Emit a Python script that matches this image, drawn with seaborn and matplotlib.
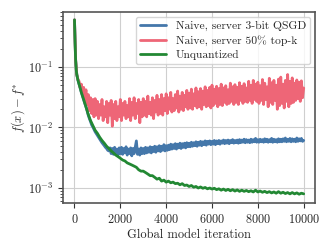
import matplotlib
matplotlib.use("Agg")
import matplotlib.pyplot as plt
import pandas as pd
import seaborn as sns


# smooth curve read on a coarse grid, noisy curves on a 50-iteration grid
iters_coarse = [0, 25, 50, 75, 100, 150, 200, 250, 300] + list(range(400, 10001, 100))
iters_fine = list(range(0, 10001, 50))

qsgd = [
    0.60, 0.13, 0.075, 0.061, 0.052, 0.045, 0.038, 0.033, 0.029, 0.025, 0.022, 0.019, 0.016, 0.014, 0.0125, 0.011, 0.0102, 0.0093, 0.0085, 0.0079,
    0.0074, 0.0069, 0.0064, 0.0060, 0.0056, 0.0053, 0.0050, 0.0047, 0.0045, 0.0042, 0.0041, 0.0046, 0.0037, 0.0045, 0.0036, 0.0047, 0.0038, 0.0044, 0.0035, 0.0046,
    0.0037, 0.0047, 0.0036, 0.0045, 0.0038, 0.0048, 0.0035, 0.0044, 0.0037, 0.0046, 0.0034, 0.0045, 0.0037, 0.0047, 0.0060, 0.0036, 0.0044, 0.0035, 0.0046, 0.0037,
    0.0045, 0.0037, 0.0047, 0.0038, 0.0046, 0.0039, 0.0048, 0.0038, 0.0047, 0.0040, 0.0049, 0.0039, 0.0048, 0.0041, 0.0050, 0.0040, 0.0049, 0.0042, 0.0052, 0.0041,
    0.0050, 0.0042, 0.0051, 0.0043, 0.0053, 0.0044, 0.0052, 0.0045, 0.0054, 0.0044, 0.0053, 0.0046, 0.0055, 0.0045, 0.0054, 0.0047, 0.0055, 0.0046, 0.0056, 0.0048,
    0.0055, 0.0048, 0.0057, 0.0049, 0.0056, 0.0050, 0.0058, 0.0049, 0.0057, 0.0051, 0.0059, 0.0050, 0.0058, 0.0052, 0.0060, 0.0051, 0.0059, 0.0053, 0.0060, 0.0052,
    0.0059, 0.0053, 0.0061, 0.0052, 0.0060, 0.0054, 0.0061, 0.0053, 0.0060, 0.0055, 0.0062, 0.0054, 0.0061, 0.0055, 0.0062, 0.0054, 0.0061, 0.0056, 0.0063, 0.0055,
    0.0061, 0.0056, 0.0062, 0.0055, 0.0063, 0.0056, 0.0062, 0.0057, 0.0064, 0.0056, 0.0063, 0.0057, 0.0062, 0.0056, 0.0064, 0.0057, 0.0063, 0.0058, 0.0066, 0.0057,
    0.0063, 0.0057, 0.0064, 0.0058, 0.0063, 0.0057, 0.0065, 0.0058, 0.0064, 0.0057, 0.0063, 0.0058, 0.0066, 0.0057, 0.0064, 0.0058, 0.0063, 0.0057, 0.0065, 0.0058,
    0.0064, 0.0058, 0.0065, 0.0059, 0.0067, 0.0058, 0.0064, 0.0059, 0.0066, 0.0058, 0.0065, 0.0059, 0.0064, 0.0058, 0.0067, 0.0059, 0.0065, 0.0060, 0.0066, 0.0059,
    0.0061,
]

topk = [
    0.60, 0.13, 0.075, 0.062, 0.058, 0.045, 0.052, 0.034, 0.046, 0.027, 0.042, 0.024, 0.035, 0.019, 0.031, 0.017, 0.029, 0.015, 0.030, 0.016,
    0.027, 0.014, 0.024, 0.016, 0.029, 0.013, 0.022, 0.015, 0.027, 0.012, 0.025, 0.016, 0.028, 0.0105, 0.024, 0.014, 0.027, 0.013, 0.022, 0.015,
    0.029, 0.013, 0.025, 0.016, 0.027, 0.014, 0.023, 0.015, 0.030, 0.013, 0.026, 0.016, 0.031, 0.014, 0.025, 0.017, 0.029, 0.012, 0.026, 0.015,
    0.030, 0.016, 0.027, 0.015, 0.033, 0.017, 0.026, 0.016, 0.031, 0.014, 0.028, 0.018, 0.034, 0.016, 0.029, 0.017, 0.035, 0.016, 0.030, 0.019,
    0.036, 0.017, 0.031, 0.020, 0.038, 0.018, 0.030, 0.019, 0.035, 0.021, 0.040, 0.018, 0.033, 0.020, 0.038, 0.019, 0.034, 0.022, 0.041, 0.020,
    0.037, 0.021, 0.043, 0.020, 0.036, 0.023, 0.045, 0.021, 0.039, 0.022, 0.044, 0.020, 0.040, 0.024, 0.047, 0.022, 0.041, 0.023, 0.046, 0.021,
    0.050, 0.023, 0.043, 0.025, 0.048, 0.022, 0.044, 0.024, 0.052, 0.023, 0.045, 0.026, 0.049, 0.024, 0.042, 0.025, 0.054, 0.027, 0.047, 0.024,
    0.051, 0.026, 0.046, 0.024, 0.055, 0.028, 0.048, 0.025, 0.053, 0.027, 0.045, 0.026, 0.058, 0.028, 0.050, 0.025, 0.060, 0.029, 0.052, 0.027,
    0.056, 0.025, 0.049, 0.028, 0.062, 0.024, 0.054, 0.029, 0.047, 0.022, 0.065, 0.026, 0.055, 0.024, 0.060, 0.028, 0.050, 0.020, 0.063, 0.023,
    0.068, 0.025, 0.052, 0.021, 0.060, 0.027, 0.075, 0.022, 0.058, 0.025, 0.066, 0.026, 0.054, 0.028, 0.061, 0.030, 0.056, 0.027, 0.059, 0.031,
    0.045,
]

unquant = [0.60, 0.25, 0.13, 0.09, 0.075, 0.061, 0.052, 0.045, 0.038,
           0.029, 0.022, 0.0165, 0.013, 0.0108, 0.0090, 0.0080, 0.0069, 0.0061, 0.0055,
           0.0049, 0.0045, 0.0041, 0.0038, 0.0035, 0.0033, 0.0031, 0.0029, 0.0028, 0.0026,
           0.0025, 0.0024, 0.0023, 0.0022, 0.0020, 0.0019, 0.0019, 0.0018, 0.0017, 0.0016,
           0.0016, 0.0015, 0.0014, 0.00145, 0.0013, 0.00135, 0.00125, 0.0013, 0.00122, 0.00125,
           0.00118, 0.0012, 0.00113, 0.00118, 0.0011, 0.00112, 0.00106, 0.0011, 0.00103, 0.00106,
           0.0010, 0.00104, 0.00099, 0.00102, 0.00097, 0.0010, 0.00096, 0.00099, 0.00094, 0.00097,
           0.00092, 0.00096, 0.00091, 0.00095, 0.0009, 0.00094, 0.00089, 0.00093, 0.00088, 0.00092,
           0.00088, 0.00091, 0.00087, 0.0009, 0.00086, 0.00092, 0.00086, 0.00089, 0.00085, 0.00088,
           0.00084, 0.00087, 0.00083, 0.00086, 0.00082, 0.00087, 0.00082, 0.00085, 0.00081, 0.00084,
           0.0008, 0.00084, 0.0008, 0.00083, 0.00079, 0.00082, 0.0008]

labels = ["Naive, server 3-bit QSGD", "Naive, server 50% top-k", "Unquantized"]
colors = ["#4477AA", "#EE6677", "#228833"]

sns.set_style("whitegrid", {"axes.edgecolor": "#555555", "grid.color": "#cfcfcf",
                            "xtick.bottom": True, "ytick.left": True})
plt.rcParams["font.family"] = "serif"
plt.rcParams["font.serif"] = ["cmr10", "DejaVu Serif"]
plt.rcParams["mathtext.fontset"] = "cm"
plt.rcParams["axes.formatter.use_mathtext"] = True
plt.rcParams["axes.unicode_minus"] = False

df = pd.concat([
    pd.DataFrame({"iteration": iters_fine, "gap": qsgd, "method": labels[0]}),
    pd.DataFrame({"iteration": iters_fine, "gap": topk, "method": labels[1]}),
    pd.DataFrame({"iteration": iters_coarse, "gap": unquant, "method": labels[2]}),
])

fig, ax = plt.subplots(figsize=(3.3, 2.5), dpi=100)
fig.subplots_adjust(left=0.191, right=0.955, top=0.952, bottom=0.188)

sns.lineplot(data=df, x="iteration", y="gap", hue="method", hue_order=labels,
             palette=colors, estimator=None, sort=False, linewidth=2, ax=ax)

ax.set_yscale("log")
ax.set_ylim(5.65e-4, 0.81)
ax.set_xticks([0, 2000, 4000, 6000, 8000, 10000])
ax.tick_params(labelsize=8.8, length=3.5, color="#333333")
ax.tick_params(which="minor", length=2, color="#333333")
ax.set_xlabel("Global model iteration", fontsize=9, labelpad=2)
ax.set_ylabel(r"$f(x) - f^{*}$", fontsize=9, labelpad=1)
for s in ax.spines.values():
    s.set_linewidth(1.2)

leg = ax.legend(loc="upper right", fontsize=8.3, frameon=True, handlelength=2.3,
                borderpad=0.35, labelspacing=0.35, handletextpad=0.8, borderaxespad=0.45)
leg.get_frame().set_edgecolor("#cccccc")

plt.savefig("out.png", dpi=100)
